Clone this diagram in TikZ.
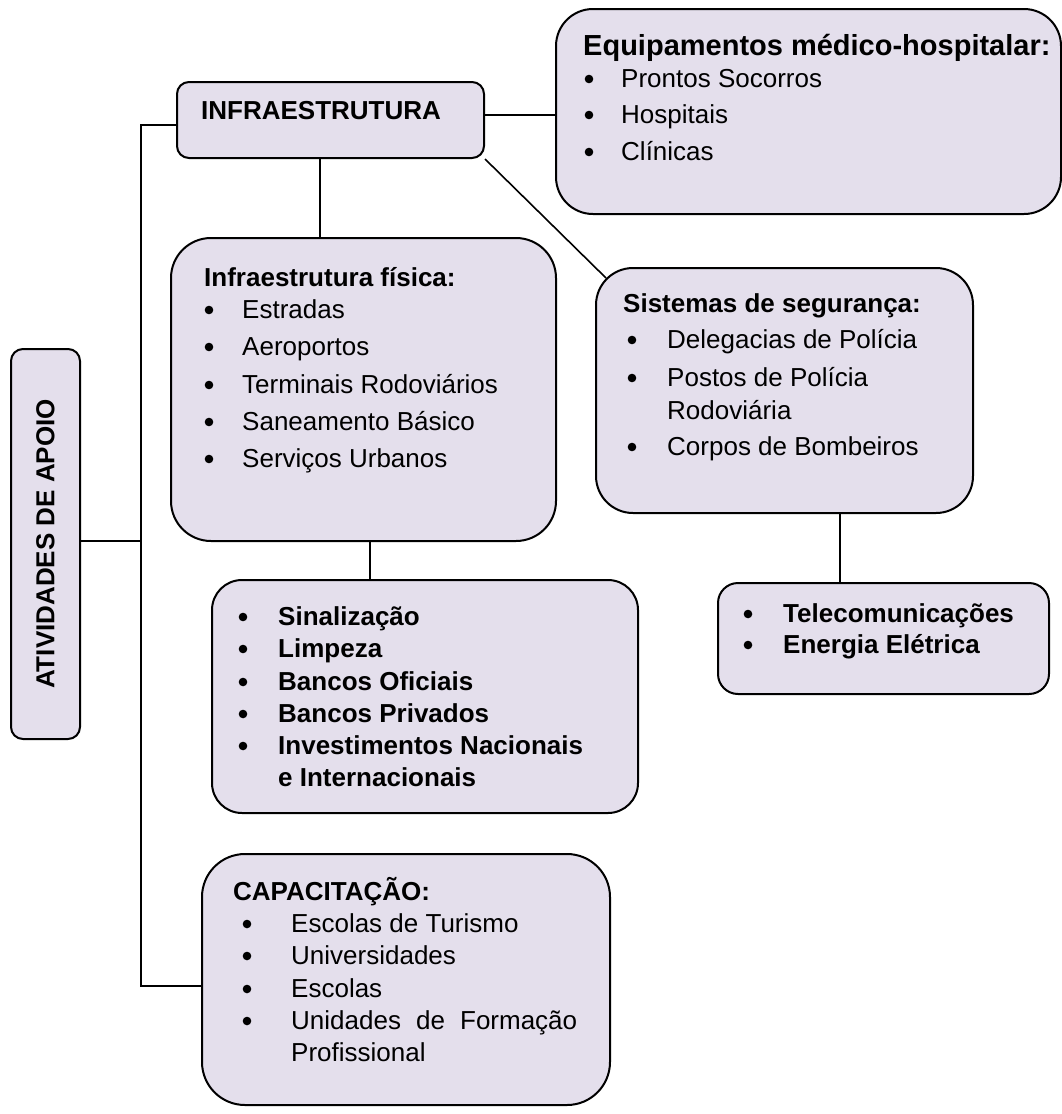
\documentclass[tikz,border=0pt]{standalone}
\usepackage{fontspec}
\setmainfont{Liberation Sans}
\usetikzlibrary{calc}
\definecolor{boxfill}{HTML}{E4DFEC}
\tikzset{
  panel/.style={draw=black, line width=2pt, fill=boxfill, anchor=north west, inner sep=0pt},
  link/.style={draw=black, line width=1.6pt},
  txt/.style={inner sep=0pt, anchor=base west, font=\fontsize{26}{31}\selectfont},
  strong/.style={font=\fontsize{26}{31}\selectfont\bfseries},
  big/.style={font=\fontsize{29}{34}\selectfont\bfseries},
  plain/.style={},
  dot/.style={circle, fill=black, draw=none, inner sep=0pt, minimum size=8.6pt},
}
% rounded panel: name, left, top, right, bottom, corner radius
\newcommand\panel[6]{\node[panel, rounded corners=#6pt,
  minimum width={(#4-#2)*1pt}, minimum height={(#5-#3)*1pt}] (#1) at (#2,#3) {};}
% bulleted line: name, bullet x, text x, baseline, style, text
\newcommand\bulletline[6]{%
  \node[dot] (#1-dot) at (#2,#4-8) {};
  \node[txt,#5] (#1) at (#3,#4) {#6};}
% plain line: name, x, baseline, style, text
\newcommand\textline[5]{\node[txt,#4] (#1) at (#2,#3) {#5};}

\begin{document}
\begin{tikzpicture}[x=1pt, y=-1pt]
\useasboundingbox (0,0) rectangle (1061,1114);

% panels
\panel{infra}{176}{81}{483}{157}{12}
\panel{equip}{555}{8}{1060}{213}{37}
\panel{fis}{170}{237}{555}{540}{40}
\panel{sis}{595}{267}{972}{512}{37}
\panel{lst}{211}{579}{637}{812}{30}
\panel{tel}{717}{582}{1048}{693}{20}
\panel{cap}{201}{853}{609}{1104}{43}
\panel{ativ}{10}{348}{79}{738}{12}

% connector routing points
\coordinate (trunkTop) at (141,125);
\coordinate (trunkMid) at (141,541);
\coordinate (trunkBot) at (141,986);
\coordinate (eqLevel) at (520,115);
\coordinate (fisDrop) at (320,200);
\coordinate (lstDrop) at (370,560);
\coordinate (telDrop) at (840,545);

% connectors
\draw[link] (infra.west |- trunkTop) -- (trunkTop) -- (trunkBot) -- (cap.west |- trunkBot);
\draw[link] (ativ.east |- trunkMid) -- (trunkMid);
\draw[link] (infra.east |- eqLevel) -- (equip.west |- eqLevel);
\draw[link] (infra.south -| fisDrop) -- (fis.north -| fisDrop);
\draw[link] (infra.south east) -- ([shift={(11,11)}]sis.north west);
\draw[link] (fis.south -| lstDrop) -- (lst.north -| lstDrop);
\draw[link] (sis.south -| telDrop) -- (tel.north -| telDrop);

% texts
\textline{infra-t}{201}{119}{strong}{INFRAESTRUTURA}

\textline{equip-t}{583}{55}{big}{Equipamentos médico-hospitalar:}
\bulletline{eq1}{589}{621}{87}{plain}{Prontos Socorros}
\bulletline{eq2}{589}{621}{123}{plain}{Hospitais}
\bulletline{eq3}{589}{621}{160}{plain}{Clínicas}

\textline{fis-t}{204}{286}{strong}{Infraestrutura física:}
\bulletline{fi1}{209}{242}{318}{plain}{Estradas}
\bulletline{fi2}{209}{242}{355}{plain}{Aeroportos}
\bulletline{fi3}{209}{242}{393}{plain}{Terminais Rodoviários}
\bulletline{fi4}{209}{242}{430}{plain}{Saneamento Básico}
\bulletline{fi5}{209}{242}{467}{plain}{Serviços Urbanos}

\textline{sis-t}{623}{312}{strong}{Sistemas de segurança:}
\bulletline{si1}{632}{667}{348}{plain}{Delegacias de Polícia}
\bulletline{si2}{632}{667}{386}{plain}{Postos de Polícia}
\textline{si2b}{667}{419}{plain}{Rodoviária}
\bulletline{si3}{632}{667}{455}{plain}{Corpos de Bombeiros}

\bulletline{ls1}{243}{278}{625}{strong}{Sinalização}
\bulletline{ls2}{243}{278}{657}{strong}{Limpeza}
\bulletline{ls3}{243}{278}{690}{strong}{Bancos Oficiais}
\bulletline{ls4}{243}{278}{722}{strong}{Bancos Privados}
\bulletline{ls5}{243}{278}{754}{strong}{Investimentos Nacionais}
\textline{ls5b}{278}{786}{strong}{e Internacionais}

\bulletline{te1}{748}{783}{622}{strong}{Telecomunicações}
\bulletline{te2}{748}{783}{653}{strong}{Energia Elétrica}

\textline{cap-t}{233}{900}{strong}{CAPACITAÇÃO:}
\bulletline{ca1}{247}{291}{932}{plain}{Escolas de Turismo}
\bulletline{ca2}{247}{291}{964}{plain}{Universidades}
\bulletline{ca3}{247}{291}{997}{plain}{Escolas}
\bulletline{ca4}{247}{291}{1029}{plain}{\makebox[286pt][s]{Unidades de Formação}}
\textline{ca4b}{291}{1061}{plain}{Profissional}

\node[txt, strong, anchor=center, rotate=90] (ativ-t) at (ativ.center) {ATIVIDADES DE APOIO};
\end{tikzpicture}
\end{document}
